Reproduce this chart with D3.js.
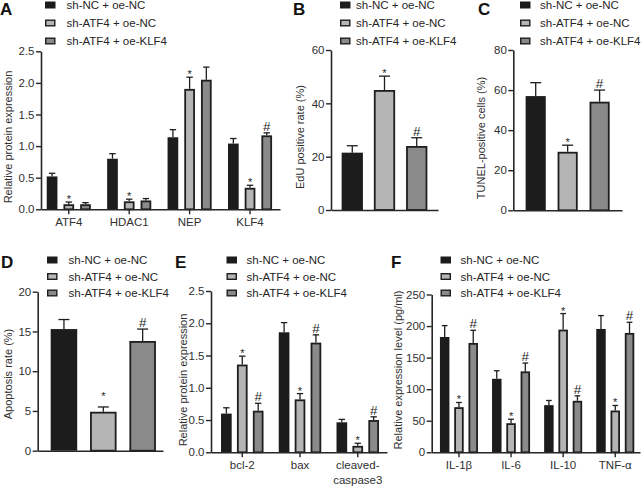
<!DOCTYPE html>
<html><head><meta charset="utf-8">
<script src="https://cdn.jsdelivr.net/npm/d3@7"></script>
<style>body{margin:0;background:#fff}svg{display:block;font-family:"Liberation Sans",Arial,sans-serif}</style>
</head><body><svg id="c" width="641" height="488"></svg>
<script>
const seriesNames = ["sh-NC + oe-NC", "sh-ATF4 + oe-NC", "sh-ATF4 + oe-KLF4"];
// Panel A
const aCategories = ["ATF4", "HDAC1", "NEP", "KLF4"];
const aMeans = [[0.52, 0.08, 0.08], [0.80, 0.126, 0.14], [1.14, 1.905, 2.05], [1.04, 0.34, 1.17]];
const aErrors = [[0.05, 0.035, 0.025], [0.08, 0.034, 0.03], [0.12, 0.185, 0.20], [0.08, 0.04, 0.04]];
const aMarks = [["", "*", ""], ["", "*", ""], ["", "*", ""], ["", "*", "#"]];
const aTicks = [0, 0.5, 1, 1.5, 2, 2.5];
// Panel B
const bMeans = [21.5, 45, 24];
const bErrors = [2.6, 5.2, 3.1];
const bMarks = ["", "*", "#"];
const bTicks = [0, 20, 40, 60];
// Panel C
const cMeans = [57, 29.2, 54.2];
const cErrors = [6.7, 3.3, 5.8];
const cMarks = ["", "*", "#"];
const cTicks = [0, 20, 40, 60, 80];
// Panel D
const dMeans = [15.3, 4.9, 13.8];
const dErrors = [1.2, 0.6, 1.5];
const dMarks = ["", "*", "#"];
const dTicks = [0, 5, 10, 15, 20];
// Panel E
const eCategories = ["bcl-2", "bax", "cleaved-caspase3"];
const eMeans = [[0.60, 1.36, 0.645], [1.86, 0.82, 1.70], [0.465, 0.10, 0.50]];
const eErrors = [[0.09, 0.13, 0.115], [0.15, 0.09, 0.12], [0.045, 0.04, 0.05]];
const eMarks = [["", "*", "#"], ["", "*", "#"], ["", "*", "#"]];
const eTicks = [0, 0.5, 1, 1.5, 2, 2.5];
// Panel F
const fCategories = ["IL-1β", "IL-6", "IL-10", "TNF-α"];
const fMeans = [[182.7, 71.5, 173.2], [116.5, 46.1, 128.2], [74.7, 194.4, 81.6], [195.4, 66.2, 189.1]];
const fErrors = [[18, 7.4, 20.1], [12.7, 6.3, 13.2], [7.4, 25.4, 7.9], [21.2, 8, 16.9]];
const fMarks = [["", "*", "#"], ["", "*", "#"], ["", "*", "#"], ["", "*", "#"]];
const fTicks = [0, 50, 100, 150, 200, 250];

const svg = d3.select("#c");
const fills = ["#1c1c1c", "#b5b5b5", "#8a8a8a"];
const INK = "#1e1e1e";

function panel(o) {
  const g = svg.append("g");
  const y = d3.scaleLinear().domain([0, o.ymax]).range([o.y0, o.y1]);
  let rows = [];
  let xOuter, bw;
  if (o.categories) {
    xOuter = d3.scaleBand().domain(o.categories).range(o.xr)
      .paddingInner(o.pi).paddingOuter(o.po).align(o.al);
    const xi = d3.scaleBand().domain([0, 1, 2]).range([0, xOuter.bandwidth()])
      .paddingInner(o.pi2).paddingOuter(0);
    bw = xi.bandwidth();
    o.categories.forEach((c, i) => [0, 1, 2].forEach(j => rows.push({
      x: xOuter(c) + xi(j), s: j, m: o.means[i][j], e: o.errors[i][j], k: o.marks[i][j]
    })));
  } else {
    xOuter = d3.scaleBand().domain(seriesNames).range(o.xr)
      .paddingInner(o.pi).paddingOuter(o.po).align(o.al);
    bw = xOuter.bandwidth();
    seriesNames.forEach((s, j) => rows.push({
      x: xOuter(s), s: j, m: o.means[j], e: o.errors[j], k: o.marks[j]
    }));
  }
  const sw = 1.8;
  g.selectAll("rect.bar").data(rows).join("rect").attr("class", "bar")
    .attr("x", d => d.s === 0 ? d.x : d.x + sw / 2)
    .attr("width", d => d.s === 0 ? bw : bw - sw)
    .attr("y", d => d.s === 0 ? y(d.m) : y(d.m) + sw / 2)
    .attr("height", d => d.s === 0 ? y(0) - y(d.m) : y(0) - y(d.m) - sw / 2)
    .attr("fill", d => fills[d.s])
    .attr("stroke", d => d.s === 0 ? "none" : INK)
    .attr("stroke-width", sw);
  const cw = Math.min(bw * 0.6, 11);
  g.selectAll("line.eb").data(rows).join("line").attr("class", "eb")
    .attr("x1", d => d.x + bw / 2).attr("x2", d => d.x + bw / 2)
    .attr("y1", d => y(d.m)).attr("y2", d => y(d.m + d.e))
    .attr("stroke", INK).attr("stroke-width", 1.3);
  g.selectAll("line.cap").data(rows).join("line").attr("class", "cap")
    .attr("x1", d => d.x + bw / 2 - cw / 2).attr("x2", d => d.x + bw / 2 + cw / 2)
    .attr("y1", d => y(d.m + d.e)).attr("y2", d => y(d.m + d.e))
    .attr("stroke", INK).attr("stroke-width", 1.3);
  const starOff = o.starOff !== undefined ? o.starOff : 1;
  g.selectAll("text.sig").data(rows.filter(d => d.k)).join("text").attr("class", "sig")
    .attr("x", d => d.x + bw / 2)
    .attr("y", d => y(d.m + d.e) + (d.k === "*" ? starOff : -2))
    .attr("text-anchor", "middle")
    .attr("font-size", d => d.k === "*" ? 11 : 13.5)
    .attr("fill", INK)
    .text(d => d.k);
  const ya = g.append("g").attr("transform", `translate(${o.xr[0]},0)`)
    .call(d3.axisLeft(y).tickValues(o.ticks).tickFormat(d3.format(o.fmt))
      .tickSize(5).tickSizeOuter(0).tickPadding(1.5));
  const xa = g.append("g").attr("transform", `translate(0,${o.y0})`)
    .call(d3.axisBottom(xOuter).tickValues(o.categories ? o.categories : [])
      .tickSize(5).tickSizeOuter(0).tickPadding(3.5));
  [ya, xa].forEach(a => {
    a.select(".domain").attr("stroke", "#262626").attr("stroke-width", 1.6);
    a.selectAll(".tick line").attr("stroke", "#262626").attr("stroke-width", 1.4);
    a.selectAll("text").attr("font-size", 11.5).attr("fill", "#303030")
      .attr("font-family", '"Liberation Sans",Arial,sans-serif');
  });
  if (o.split) {
    xa.selectAll(".tick text").each(function (d) {
      if (d.indexOf("-") > 0 && d.length > 8) {
        const t = d3.select(this); const parts = d.split("-");
        t.text(null);
        t.append("tspan").attr("x", 0).text(parts[0] + "-");
        t.append("tspan").attr("x", 0).attr("dy", "1.3em").text(parts[1]);
      }
    });
  }
  g.append("text").attr("transform", `translate(${o.tx},${o.ty}) rotate(-90)`)
    .attr("text-anchor", "middle").attr("dy", "0.35em")
    .attr("font-size", 11).attr("fill", "#303030").text(o.title);
  seriesNames.forEach((s, j) => {
    const ly = o.ly[j];
    g.append("rect").attr("x", o.lx + (j ? 0.7 : 0)).attr("y", ly - 3.5 + (j ? 0.7 : 0))
      .attr("width", 10.5 - (j ? 1.4 : 0)).attr("height", 7 - (j ? 1.4 : 0))
      .attr("fill", fills[j]).attr("stroke", j ? INK : "none").attr("stroke-width", 1.4);
    g.append("text").attr("x", o.lx + o.lgap).attr("y", ly + 4)
      .attr("font-size", 11.5).attr("fill", "#262626").text(s);
  });
  g.append("text").attr("x", o.px).attr("y", o.py).attr("font-size", 17)
    .attr("font-weight", "bold").attr("fill", "#111").text(o.letter);
}

panel({letter: "A", px: 0, py: 15, categories: aCategories, means: aMeans, errors: aErrors, marks: aMarks,
  ymax: 2.5, ticks: aTicks, fmt: ".1f", y0: 209.3, y1: 51.3, xr: [41, 280], pi: 0.27, po: 0.113, al: 0.42, pi2: 0.36,
  title: "Relative protein expression", tx: 8, ty: 137, lx: 45, lgap: 21.5, ly: [5, 23, 41]});
panel({letter: "B", px: 293, py: 15, means: bMeans, errors: bErrors, marks: bMarks,
  ymax: 60, ticks: bTicks, fmt: "d", y0: 210, y1: 50, xr: [331, 438], pi: 0.34, po: 0.33, al: 0.5,
  title: "EdU positive rate (%)", tx: 300, ty: 137, lx: 340, lgap: 16, ly: [5, 23, 41]});
panel({letter: "C", px: 478, py: 15, means: cMeans, errors: cErrors, marks: cMarks,
  ymax: 80, ticks: cTicks, fmt: "d", y0: 210.3, y1: 50, xr: [513.3, 622], pi: 0.37, po: 0.386, al: 0.5,
  title: "TUNEL-positive cells (%)", tx: 481, ty: 138, lx: 520, lgap: 20, ly: [5, 23, 41]});
panel({letter: "D", px: 1, py: 268, means: dMeans, errors: dErrors, marks: dMarks, starOff: -7,
  ymax: 20, ticks: dTicks, fmt: "d", y0: 450.7, y1: 291.7, xr: [37.7, 163], pi: 0.326, po: 0.255, al: 0.647,
  title: "Apoptosis rate (%)", tx: 8, ty: 374, lx: 47, lgap: 21.5, ly: [260, 276.5, 293]});
panel({letter: "E", px: 175, py: 268, categories: eCategories, means: eMeans, errors: eErrors, marks: eMarks, split: true,
  ymax: 2.5, ticks: eTicks, fmt: ".1f", y0: 452.3, y1: 291, xr: [211, 387], pi: 0.264, po: 0.156, al: 0.556, pi2: 0.33,
  title: "Relative protein expression", tx: 183, ty: 380, lx: 226.5, lgap: 20, ly: [260, 276.5, 293]});
panel({letter: "F", px: 391, py: 268, categories: fCategories, means: fMeans, errors: fErrors, marks: fMarks,
  ymax: 250, ticks: fTicks, fmt: "d", y0: 452.3, y1: 294.5, xr: [431.7, 640], pi: 0.27, po: 0.134, al: 0.59, pi2: 0.336,
  title: "Relative expression level (pg/ml)", tx: 398, ty: 370, lx: 440.5, lgap: 20, ly: [260, 276.5, 293]});
</script></body></html>
